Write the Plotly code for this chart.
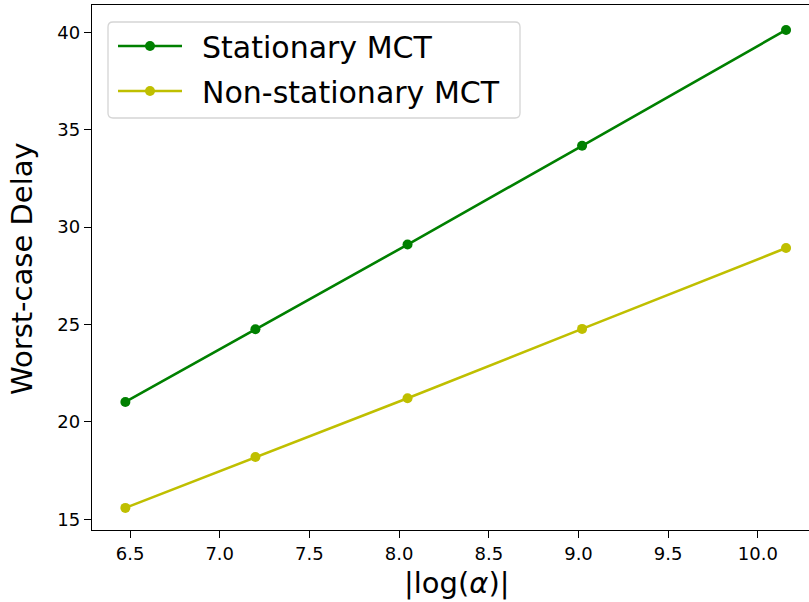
import plotly.graph_objects as go

# data
log_alpha = [6.474, 7.199, 8.047, 9.020, 10.157]
stationary_mct = [21.02, 24.75, 29.10, 34.17, 40.12]
nonstationary_mct = [15.58, 18.19, 21.21, 24.77, 28.92]
series_names = ["Stationary MCT", "Non-stationary MCT"]
x_ticks = [6.5, 7.0, 7.5, 8.0, 8.5, 9.0, 9.5, 10.0]
y_ticks = [15, 20, 25, 30, 35, 40]

W, H = 809, 602
L, R, T, B = 92, 0, 5, 72
pw, ph = W - L - R, H - T - B

def px_x(p):
    return (p - L) / pw

def px_y(p):
    return (H - B - p) / ph

FONT = "DejaVu Sans"
GAP = "\u2002"

fig = go.Figure()
fig.add_trace(go.Scatter(x=log_alpha, y=stationary_mct, mode="lines+markers",
                         name=GAP + series_names[0], legendgroup="a",
                         line=dict(color="#008000", width=2.6),
                         marker=dict(color="#008000", size=10)))
fig.add_trace(go.Scatter(x=log_alpha, y=nonstationary_mct, mode="lines+markers",
                         name=GAP + series_names[1], legendgroup="b",
                         line=dict(color="#bfbf00", width=2.6),
                         marker=dict(color="#bfbf00", size=10)))

# rounded legend frame
x0, x1 = px_x(108), px_x(520)
y0, y1 = px_y(118), px_y(22)
rx, ry = 5 / pw, 5 / ph
path = (f"M {x0+rx},{y1} L {x1-rx},{y1} Q {x1},{y1} {x1},{y1-ry} "
        f"L {x1},{y0+ry} Q {x1},{y0} {x1-rx},{y0} L {x0+rx},{y0} "
        f"Q {x0},{y0} {x0},{y0+ry} L {x0},{y1-ry} Q {x0},{y1} {x0+rx},{y1} Z")
fig.add_shape(type="path", path=path, xref="paper", yref="paper",
              line=dict(color="#d5d5d5", width=1.3),
              fillcolor="rgba(255,255,255,0.8)", layer="above")

fig.add_annotation(text="|log(<i>α</i>)|", xref="paper", yref="paper",
                   x=px_x(457), y=px_y(583), xanchor="center", yanchor="middle",
                   showarrow=False, font=dict(family=FONT, size=29, color="black"))
fig.add_annotation(text="Worst-case Delay", xref="paper", yref="paper",
                   x=px_x(22), y=px_y(269), xanchor="center", yanchor="middle",
                   textangle=-90, showarrow=False,
                   font=dict(family=FONT, size=29, color="black"))

fig.update_layout(
    width=W, height=H,
    margin=dict(l=L, r=R, t=T, b=B, pad=0),
    paper_bgcolor="white", plot_bgcolor="white",
    font=dict(family=FONT, color="black"),
    showlegend=True,
    legend=dict(x=px_x(113), y=px_y(20), xanchor="left", yanchor="top",
                bgcolor="rgba(0,0,0,0)", borderwidth=0,
                font=dict(family=FONT, size=30, color="black"),
                itemwidth=64, traceorder="grouped", tracegroupgap=3),
    xaxis=dict(range=[6.288, 10.285], tickvals=x_ticks, tickformat=".1f",
               showgrid=False, zeroline=False, showline=True, mirror=True,
               linecolor="black", linewidth=1.3, ticks="outside", ticklen=7,
               tickwidth=1.3, tickcolor="black",
               tickfont=dict(family=FONT, size=18, color="black")),
    yaxis=dict(range=[14.445, 41.4], tickvals=y_ticks,
               showgrid=False, zeroline=False, showline=True, mirror=False,
               linecolor="black", linewidth=1.3, ticks="outside", ticklen=7,
               tickwidth=1.3, tickcolor="black",
               tickfont=dict(family=FONT, size=18, color="black")),
)

fig.write_html("out.html",
               config={"displayModeBar": False},
               post_script="document.body.style.margin='0';"
                           "document.body.style.overflow='hidden';")
